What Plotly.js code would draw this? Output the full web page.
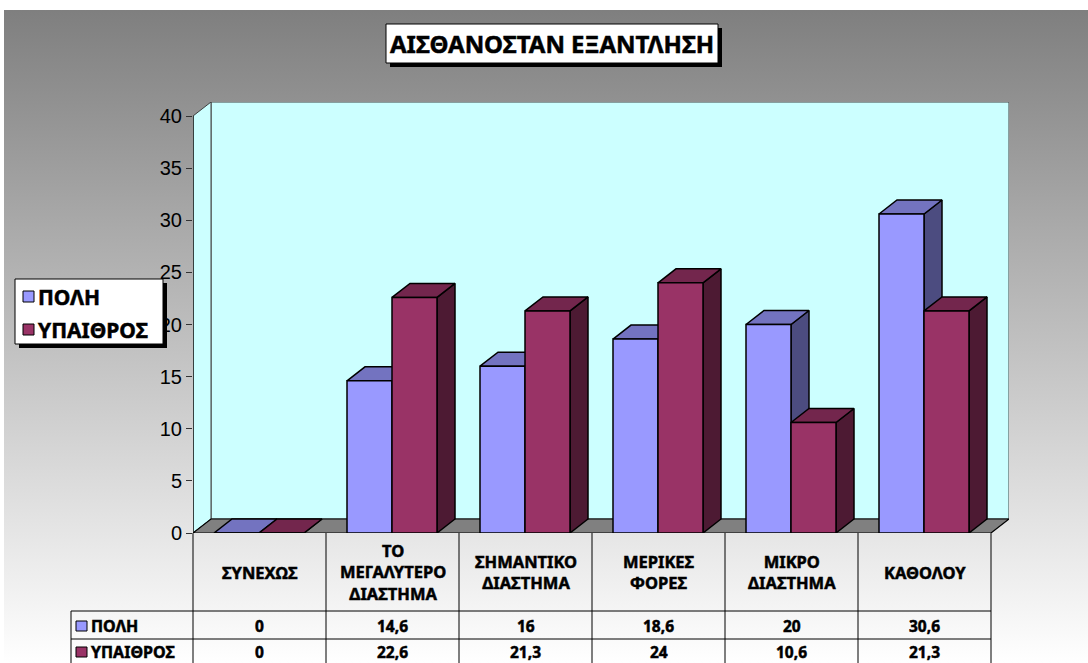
<!DOCTYPE html>
<html>
<head>
<meta charset="utf-8">
<script src="https://cdn.plot.ly/plotly-3.0.1.min.js"></script>
<style>
  html, body { margin: 0; padding: 0; background: #ffffff; }
  #wrap { position: relative; width: 1088px; height: 663px; overflow: hidden; }
  #bg { position: absolute; left: 4px; top: 10px; right: 0; bottom: 0;
        background: linear-gradient(to bottom, #7f7f7f 0%, #ffffff 100%); }
  #chart { position: absolute; left: 0; top: 0; width: 1088px; height: 663px; }
  /* heavier strokes for the bold captions */
  #chart .annotation-text { stroke: #000000; stroke-width: 0.5px; }
</style>
</head>
<body>
<div id="wrap"><div id="bg"></div><div id="chart"></div></div>
<script>
// ---- data ----
const categories = ['ΣΥΝΕΧΩΣ', 'ΤΟ ΜΕΓΑΛΥΤΕΡΟ ΔΙΑΣΤΗΜΑ', 'ΣΗΜΑΝΤΙΚΟ ΔΙΑΣΤΗΜΑ', 'ΜΕΡΙΚΕΣ ΦΟΡΕΣ', 'ΜΙΚΡΟ ΔΙΑΣΤΗΜΑ', 'ΚΑΘΟΛΟΥ'];
const categoryLabels = ['ΣΥΝΕΧΩΣ', 'ΤΟ<br>ΜΕΓΑΛΥΤΕΡΟ<br>ΔΙΑΣΤΗΜΑ', 'ΣΗΜΑΝΤΙΚΟ<br>ΔΙΑΣΤΗΜΑ', 'ΜΕΡΙΚΕΣ<br>ΦΟΡΕΣ', 'ΜΙΚΡΟ<br>ΔΙΑΣΤΗΜΑ', 'ΚΑΘΟΛΟΥ'];
const seriesNames = ['ΠΟΛΗ', 'ΥΠΑΙΘΡΟΣ'];
const poli = [0, 14.6, 16, 18.6, 20, 30.6];
const ypaithros = [0, 22.6, 21.3, 24, 10.6, 21.3];
const yTicks = [0, 5, 10, 15, 20, 25, 30, 35, 40];
const chartTitle = 'ΑΙΣΘΑΝΟΣΤΑΝ ΕΞΑΝΤΛΗΣΗ';

// ---- styling ----
const FONT = 'Liberation Sans, Arial, sans-serif';
const BOLD_FONT = 'Noto Sans, Liberation Sans, Arial, sans-serif';
const seriesStyle = [
  { front: '#9999ff', top: '#7373c0', side: '#4c4c80' },
  { front: '#993366', top: '#73264d', side: '#4d1a33' }
];
const WALL = '#ccffff', FLOOR = '#808080';

// ---- geometry (pixels) ----
const W = 1088, H = 663;
const M = { l: 193, r: 79, t: 102, b: 130 };
const plotW = W - M.l - M.r;
const plotH = H - M.t - M.b;
const CAT_PX = 133;              // width of one category slot
const PPU = 417 / 40;            // pixels per value unit
const xMax = plotW / CAT_PX;
const yMax = plotH / PPU;
const DX = 18 / CAT_PX, DY = 14 / PPU;   // depth offset of the 3-D look
const GAP = 21 / CAT_PX, BW = 45 / CAT_PX;
const yTop = yTicks[yTicks.length - 1];
const nCat = categories.length;

const px2x = px => (px - M.l) / plotW;
const py2y = py => (H - M.b - py) / plotH;
const cat2x = i => i / xMax;     // category boundary -> paper x

// ---- polygon helpers ----
function polyTrace(polys, fill, line, width) {
  const x = [], y = [];
  polys.forEach((p, k) => {
    if (k) { x.push(null); y.push(null); }
    p.forEach(pt => { x.push(pt[0]); y.push(pt[1]); });
  });
  return { type: 'scatter', mode: 'lines', x, y, fill: 'toself', fillcolor: fill,
           line: { color: line, width: width }, hoverinfo: 'skip', showlegend: false };
}
const rectPoly = (x0, y0, x1, y1) => [[x0, y0], [x1, y0], [x1, y1], [x0, y1], [x0, y0]];

const traces = [];
// back wall, left wall, floor
traces.push(polyTrace([rectPoly(DX, DY, nCat + DX, yTop + DY)], WALL, '#404040', 1));
traces.push(polyTrace([[[0, 0], [DX, DY], [DX, yTop + DY], [0, yTop], [0, 0]]], WALL, '#404040', 1));
traces.push(polyTrace([[[0, 0], [nCat, 0], [nCat + DX, DY], [DX, DY], [0, 0]]], FLOOR, '#000000', 1.2));
// value axis line
traces.push({ type: 'scatter', mode: 'lines', x: [0, 0], y: [0, yTop],
              line: { color: '#000000', width: 1.2 }, hoverinfo: 'skip', showlegend: false });

// 3-D columns, painted back to front: side, top, front for each series
[poli, ypaithros].forEach((vals, s) => {
  const side = [], top = [], front = [];
  vals.forEach((v, i) => {
    const x0 = i + GAP + s * BW, x1 = x0 + BW;
    side.push([[x1, 0], [x1 + DX, DY], [x1 + DX, v + DY], [x1, v], [x1, 0]]);
    top.push([[x0, v], [x1, v], [x1 + DX, v + DY], [x0 + DX, v + DY], [x0, v]]);
    front.push(rectPoly(x0, 0, x1, v));
  });
  traces.push(polyTrace(side, seriesStyle[s].side, '#000000', 1.5));
  traces.push(polyTrace(top, seriesStyle[s].top, '#000000', 1.5));
  traces.push(polyTrace(front, seriesStyle[s].front, '#000000', 1.5));
});

// ---- shapes: title box, legend box, data table grid ----
const shapes = [];
const pxRect = (x0, y0, x1, y1, fill, line) => ({
  type: 'rect', xref: 'paper', yref: 'paper', layer: 'above',
  x0: px2x(x0), x1: px2x(x1), y0: py2y(y0), y1: py2y(y1),
  fillcolor: fill, line: { color: line, width: line === 'rgba(0,0,0,0)' ? 0 : 1 }
});
// title box with drop shadow
shapes.push(pxRect(390, 28, 722, 67, '#000000', 'rgba(0,0,0,0)'));
shapes.push(pxRect(386, 24, 718, 63, '#ffffff', '#000000'));
// legend box with drop shadow
shapes.push(pxRect(19, 283, 167, 348, '#000000', 'rgba(0,0,0,0)'));
shapes.push(pxRect(15, 279, 163, 344, '#ffffff', '#000000'));
const legendRows = [296, 329];
legendRows.forEach((cy, s) => shapes.push(pxRect(23, cy - 5, 34, cy + 6, seriesStyle[s].front, '#000000')));

// table grid
const ROW_TOP = 611, ROW_MID = 639, TBL_BOTTOM = 663, LABEL_LEFT = 71;
const gridLine = (x0, y0, x1, y1) => ({ type: 'line', xref: 'paper', yref: 'paper', layer: 'above',
  x0, y0, x1, y1, line: { color: '#000000', width: 1 } });
for (let i = 0; i <= nCat; i++) {
  shapes.push(gridLine(cat2x(i), py2y(H - M.b), cat2x(i), py2y(TBL_BOTTOM)));
}
shapes.push(gridLine(px2x(LABEL_LEFT), py2y(ROW_TOP), cat2x(nCat), py2y(ROW_TOP)));
shapes.push(gridLine(px2x(LABEL_LEFT), py2y(ROW_MID), cat2x(nCat), py2y(ROW_MID)));
shapes.push(gridLine(px2x(LABEL_LEFT), py2y(ROW_TOP), px2x(LABEL_LEFT), py2y(TBL_BOTTOM)));
// row-label swatches
const rowCenters = [(ROW_TOP + ROW_MID) / 2 + 1, ROW_MID + 13];
rowCenters.forEach((cy, s) => shapes.push(pxRect(76, cy - 5, 87, cy + 5, seriesStyle[s].front, '#000000')));

// ---- annotations ----
const annotations = [];
const txt = (text, x, y, size, xanchor) => ({
  text, x, y, xref: 'paper', yref: 'paper', xanchor: xanchor || 'center', yanchor: 'middle',
  showarrow: false, borderpad: 0,
  font: { family: BOLD_FONT, size, color: '#000000', weight: 700 }
});
annotations.push(txt(chartTitle, px2x(552), py2y(44), 24));
seriesNames.forEach((n, s) => annotations.push(txt(n, px2x(37), py2y(legendRows[s] + 1), 21, 'left')));
categoryLabels.forEach((lab, i) => annotations.push(txt(lab, cat2x(i + 0.5), py2y(572), 16.5)));
const fmt = v => String(v).replace('.', ',');
[poli, ypaithros].forEach((vals, s) => {
  vals.forEach((v, i) => annotations.push(txt(fmt(v), cat2x(i + 0.5), py2y(rowCenters[s]), 15.5)));
  annotations.push(txt(seriesNames[s], px2x(90), py2y(rowCenters[s]), 16, 'left'));
});

const layout = {
  width: W, height: H, margin: M,
  paper_bgcolor: 'rgba(0,0,0,0)', plot_bgcolor: 'rgba(0,0,0,0)',
  showlegend: false,
  xaxis: { range: [0, xMax], visible: false, fixedrange: true },
  yaxis: { range: [0, yMax], tickvals: yTicks, ticktext: yTicks.map(String),
           ticks: 'outside', ticklen: 6, tickcolor: '#333333', tickwidth: 1,
           showgrid: false, zeroline: false, showline: false, fixedrange: true,
           tickfont: { family: FONT, size: 20, color: '#000000' } },
  shapes, annotations
};

Plotly.newPlot('chart', traces, layout, { displayModeBar: false, staticPlot: true });
</script>
</body>
</html>
